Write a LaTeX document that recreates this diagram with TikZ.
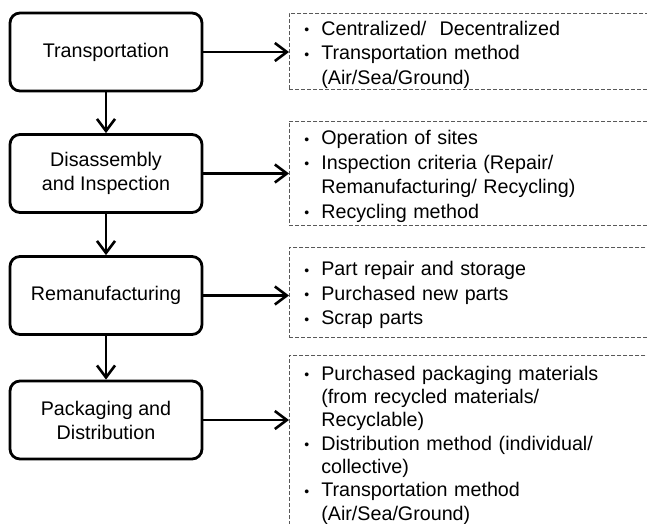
\documentclass[tikz,border=0pt]{standalone}
\usepackage{fontspec}
\setmainfont{Liberation Sans}
\usetikzlibrary{arrows.meta}
\newcommand{\bul}{\raisebox{0.5pt}{\fontsize{14}{14}\selectfont\textbullet}}
\newcommand{\notelist}[1]{\raisebox{-3.5pt}[\height][\depth]{\begin{tabular}{@{}l@{\hspace{12pt}}l@{}}#1\end{tabular}}}

\begin{document}
\begin{tikzpicture}[x=1pt,y=-1pt]
\tikzstyle{stage}=[draw=black,line width=2.8pt,rounded corners=10pt,fill=white,minimum width=192pt,minimum height=78pt,align=center,inner sep=2pt,font=\fontsize{19.7}{24}\selectfont]
\tikzstyle{notes}=[draw=black!65,dash pattern=on 4pt off 2pt,line width=0.9pt,anchor=west,text width=340pt,inner xsep=15pt,inner ysep=0pt,align=left,font=\fontsize{19.7}{24.5}\selectfont]
\tikzstyle{flow}=[-{Straight Barb[length=12pt,width=18pt]},line width=2.6pt]
\useasboundingbox (0,0) rectangle (647,524);
\clip (0,0) rectangle (647,524);
% process steps
\node[stage] (1) at (106,52) {Transportation};
\node[stage] (2) at (106,173.5) {Disassembly\\and Inspection};
\node[stage] (3) at (106,295.5) {Remanufacturing};
\node[stage] (4) at (106,420) {Packaging and\\Distribution};
% details of each step
\node[notes,minimum height=76pt] (d1) at (289,51.5) {\notelist{
\bul & Centralized/ \ Decentralized\\
\bul & Transportation method\\
 & (Air/Sea/Ground)}};
\node[notes,minimum height=104pt] (d2) at (289,173) {\notelist{
\bul & Operation of sites\\
\bul & Inspection criteria (Repair/\\
 & Remanufacturing/ Recycling)\\
\bul & Recycling method}};
\node[notes,minimum height=90pt] (d3) at (289,292) {\notelist{
\bul & Part repair and storage\\
\bul & Purchased new parts\\
\bul & Scrap parts}};
\node[notes,minimum height=174pt,font=\fontsize{19.7}{23.3}\selectfont] (d4) at (289,442) {\notelist{
\bul & Purchased packaging materials\\
 & (from recycled materials/\\
 & Recyclable)\\
\bul & Distribution method (individual/\\
 & collective)\\
\bul & Transportation method\\
 & (Air/Sea/Ground)}};
\draw[flow] (1) -- (2);
\draw[flow] (2) -- (3);
\draw[flow] (3) -- (4);
\draw[flow] (1.east) -- (1.east -| d1.west);
\draw[flow] (2.east) -- (2.east -| d2.west);
\draw[flow] (3.east) -- (3.east -| d3.west);
\draw[flow] (4.east) -- (4.east -| d4.west);
\end{tikzpicture}
\end{document}
